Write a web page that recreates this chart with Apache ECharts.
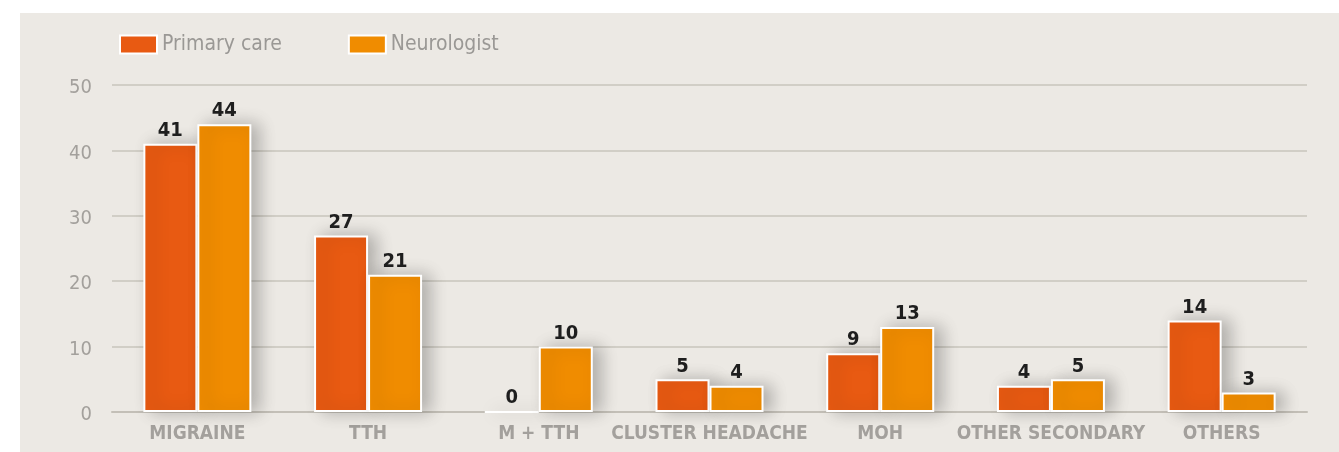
<!DOCTYPE html>
<html><head><meta charset="utf-8">
<script src="https://cdn.jsdelivr.net/npm/echarts@6/dist/echarts.min.js"></script>
<style>html,body{margin:0;padding:0;background:#fff;}#c{width:1339px;height:452px;}</style>
</head><body><div id="c"></div>
<script>
const categories = ['MIGRAINE','TTH','M + TTH','CLUSTER HEADACHE','MOH','OTHER SECONDARY','OTHERS'];
const primaryCare = [41,27,0,5,9,4,14];
const neurologist = [44,21,10,4,13,5,3];
const yTicks = [0,10,20,30,40,50];
const FONT = '"Liberation Sans Narrow","DejaVu Sans Condensed","Roboto",sans-serif';
const chart = echarts.init(document.getElementById('c'));
const barStyle = (color) => ({
  color: color, borderColor: '#ffffff', borderWidth: 2,
  shadowColor: 'rgba(0,0,0,0.25)', shadowBlur: 16, shadowOffsetX: 8, shadowOffsetY: 0
});
const lbl = {show: true, position: 'top', distance: 3, fontFamily: FONT, fontSize: 20, fontWeight: 'bold', color: '#1e1e1e'};
chart.setOption({
  animation: false,
  graphic: [{type: 'rect', left: 20, top: 13, shape: {width: 1319, height: 439}, style: {fill: '#ECE9E4'}, z: -10}],
  legend: {
    left: 114, top: 29, itemWidth: 37, itemHeight: 18, itemGap: 66,
    icon: 'rect',
    textStyle: {fontFamily: FONT, fontSize: 21, color: '#9a9895'},
    data: ['Primary care','Neurologist']
  },
  grid: {left: 112, right: 32, top: 85, bottom: 40},
  xAxis: {
    type: 'category', data: categories,
    axisTick: {show: false},
    axisLine: {lineStyle: {color: '#c3bfb7', width: 2}},
    axisLabel: {fontFamily: FONT, fontSize: 19, fontWeight: 'bold', color: '#a3a09c', margin: 13, interval: 0}
  },
  yAxis: {
    type: 'value', min: yTicks[0], max: yTicks[yTicks.length-1], interval: 10,
    axisLine: {show: false}, axisTick: {show: false},
    splitLine: {lineStyle: {color: '#c8c4bc', width: 1.5}},
    axisLabel: {fontFamily: FONT, fontSize: 20, color: '#a3a09c', margin: 20, verticalAlign: 'top', lineHeight: 6}
  },
  series: [
    {name: 'Primary care', type: 'bar', data: primaryCare, barWidth: 54, barGap: '0%', itemStyle: barStyle('#E85A12'), label: lbl},
    {name: 'Neurologist', type: 'bar', data: neurologist, barWidth: 54, barGap: '0%', itemStyle: barStyle('#F08C00'), label: lbl}
  ]
});
</script></body></html>
